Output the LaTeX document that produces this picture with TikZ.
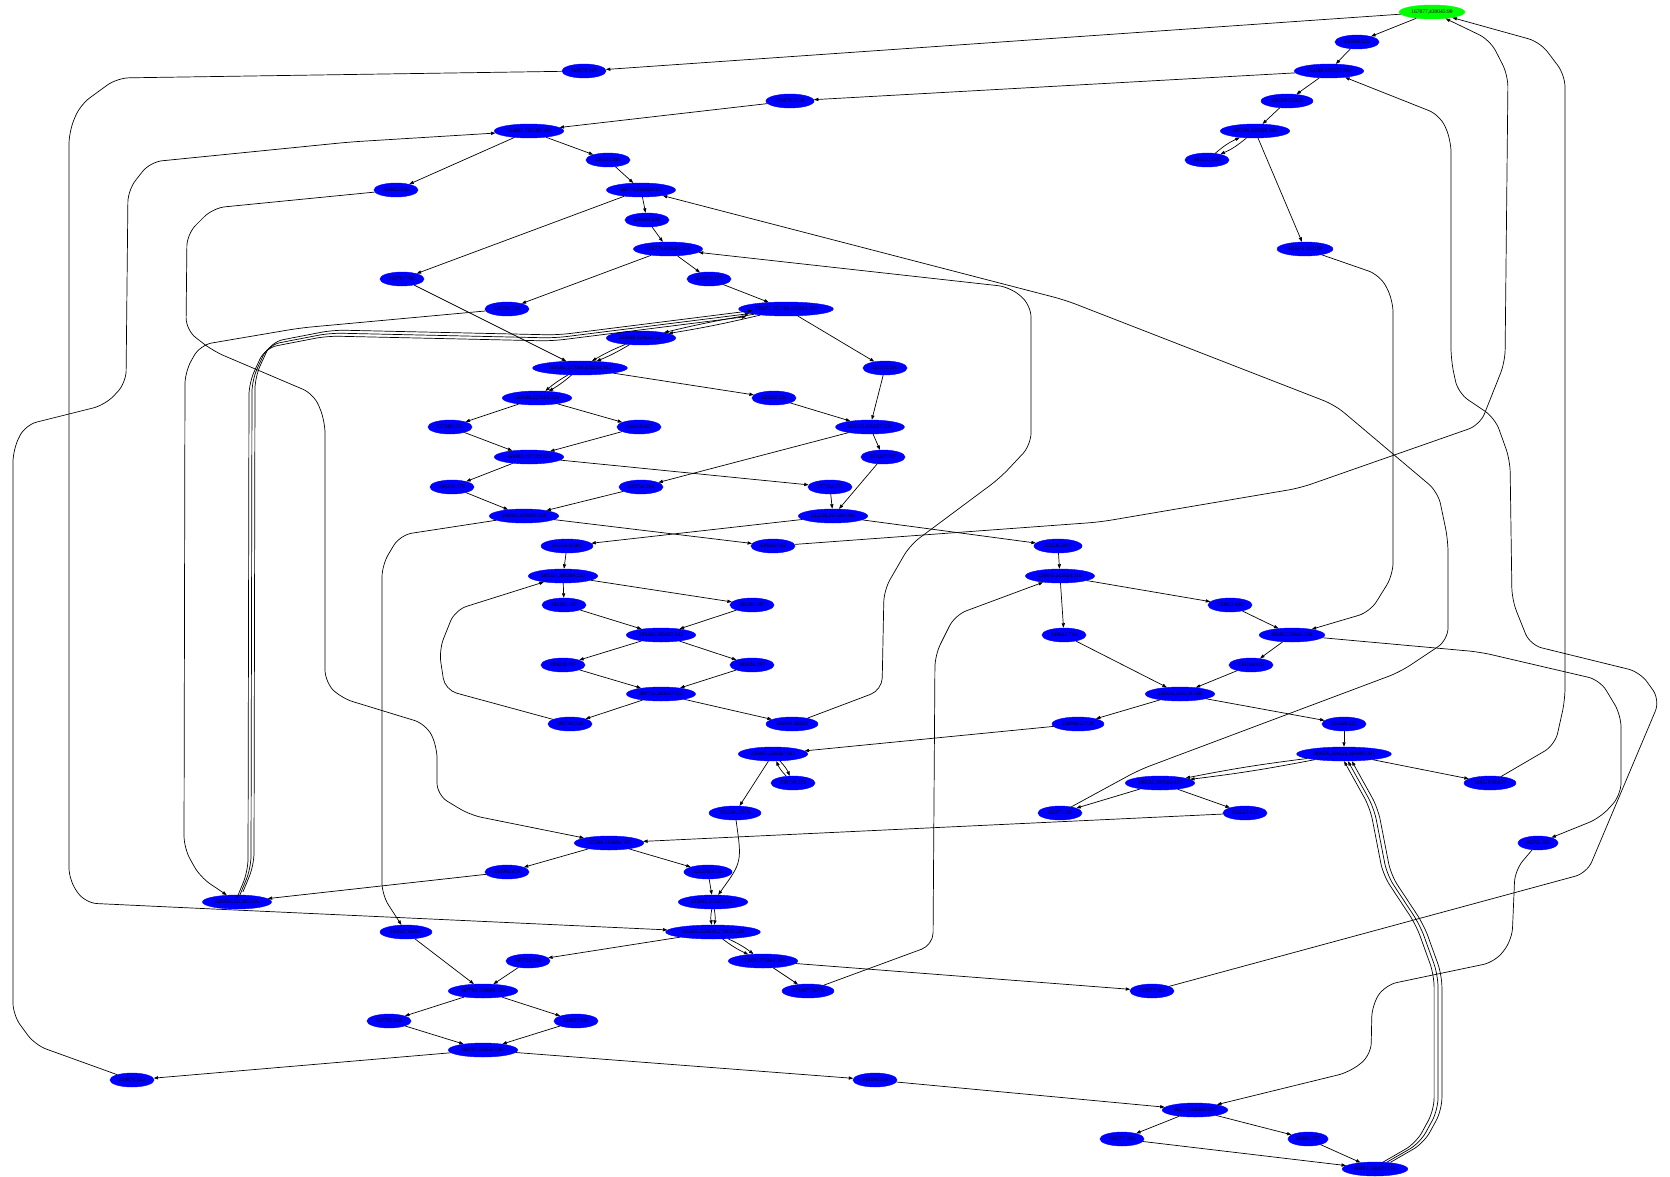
\documentclass[tikz,border=0pt]{standalone}
\usepackage{fontspec}
\setmainfont{Liberation Serif}
\usetikzlibrary{shapes.geometric,arrows.meta}
\definecolor{myblobcolor}{HTML}{0000FF}
\definecolor{mystartcolor}{HTML}{00FF00}
\tikzset{
  blob/.style={draw=myblobcolor, fill=myblobcolor, ellipse, inner xsep=2.5pt, inner ysep=1pt, minimum height=14pt, font=\fontsize{5.5pt}{5.5pt}\selectfont},
  startblob/.style={blob, draw=mystartcolor, fill=mystartcolor},
  link/.style={draw, line width=0.7pt, -{Triangle[length=4.5pt,width=3.2pt]}},
  bendy/.style={link, rounded corners=12pt},
}

\begin{document}
\begin{tikzpicture}[x=1pt, y=-1pt]%
\useasboundingbox (0, 0) rectangle (1670, 1177);%
% rank 0 - 9
\node[startblob] (n167877) at (1432, 12) {167877,430045:99};%
\node[blob] (n430046) at (1357, 42) {430046:225};%
\node[blob] (n169678) at (584, 71) {169678:165};%
\node[blob] (n224160) at (1329, 71) {224160,430175:106};%
\node[blob] (n224978) at (790, 101) {224978:2130};%
\node[blob] (n430398) at (1287, 101) {430398:53416};%
\node[blob] (n214801) at (529, 131) {214801,226180:109};%
\node[blob] (n485309) at (1255, 131) {485309,419368:306};%
\node[blob] (n226131) at (608, 160) {226131:381};%
\node[blob] (n485537) at (1207, 160) {485537:519};%
\node[blob] (n214822) at (396, 190) {214822:536};%
\node[blob] (n168774) at (641, 190) {168774,226424:117};%
\node[blob] (n226443) at (647, 220) {226443:434};%
\node[blob] (n226779) at (668, 249) {226779,428695:114};%
\node[blob] (n485476) at (1305, 249) {485476:103188};%
\node[blob] (n168703) at (402, 279) {168703:700};%
\node[blob] (n428971) at (709, 279) {428971:277};%
% rank 10 - 19
\node[blob] (n226765) at (507, 309) {226765:259};%
\node[blob] (n226971) at (786, 309) {226971,351288,429363:103};%
\node[blob] (n330689) at (641, 338) {330689,429665:157};%
\node[blob] (n169585) at (580, 368) {169585,227048,429234:103};%
\node[blob] (n351313) at (885, 368) {351313:200};%
\node[blob] (n169580) at (537, 398) {169580,227063:124};%
\node[blob] (n429239) at (774, 398) {429239:126};%
\node[blob] (n227089) at (450, 427) {227089:151};%
\node[blob] (n169418) at (639, 427) {169418:467};%
\node[blob] (n351115) at (870, 427) {351115,429287:130};%
\node[blob] (n169483) at (529, 457) {169483,227129:123};%
\node[blob] (n351017) at (883, 457) {351017:197};%
\node[blob] (n166510) at (452, 487) {166510:179};%
\node[blob] (n429256) at (641, 487) {429256:204};%
\node[blob] (n227154) at (830, 487) {227154:171};%
\node[blob] (n168681) at (524, 516) {168681,429405:134};%
\node[blob] (n222228) at (833, 516) {222228,351546:306};%
\node[blob] (n351554) at (567, 546) {351554:37801};%
\node[blob] (n429441) at (773, 546) {429441:702};%
\node[blob] (n222236) at (1058, 546) {222236:2877};%
\node[blob] (n389357) at (563, 576) {389357,389399:233};%
\node[blob] (n229815) at (1060, 576) {229815,343624:116};%
% rank 20 - 29
\node[blob] (n389301) at (564, 605) {389301:197};%
\node[blob] (n389392) at (752, 605) {389392:197};%
\node[blob] (n229833) at (1230, 605) {229833:408};%
\node[blob] (n389460) at (661, 635) {389460,389403:243};%
\node[blob] (n349642) at (1064, 635) {349642:734};%
\node[blob] (n86280) at (1292, 635) {86280,230041:108};%
\node[blob] (n389618) at (563, 665) {389618:197};%
\node[blob] (n389636) at (752, 665) {389636:197};%
\node[blob] (n230144) at (1251, 665) {230144:410};%
\node[blob] (n389735) at (661, 694) {389735,389647:112};%
\node[blob] (n230456) at (1180, 694) {230456,350578:108};%
\node[blob] (n389749) at (570, 724) {389749:518};%
\node[blob] (n350641) at (792, 724) {350641:38302};%
\node[blob] (n230846) at (1078, 724) {230846:27739};%
\node[blob] (n350368) at (1344, 724) {350368:221};%
\node[blob] (n258467) at (773, 754) {258467,258387:101};%
\node[blob] (n389926) at (1344, 754) {389926,368520,389401:101};%
\node[blob] (n258139) at (793, 783) {258139:225};%
\node[blob] (n388532) at (1160, 783) {388532,389503:437};%
\node[blob] (n389918) at (1490, 783) {389918:80837};%
\node[blob] (n258290) at (735, 813) {258290:13179};%
\node[blob] (n169371) at (1060, 813) {169371:301};%
\node[blob] (n350542) at (1245, 813) {350542:432};%
\node[blob] (n215280) at (609, 843) {215280,350896:102};%
\node[blob] (n86293) at (1538, 843) {86293:182};%
\node[blob] (n350906) at (507, 872) {350906:478};%
\node[blob] (n225264) at (708, 872) {225264:4735};%
% rank 30 - 39
\node[blob] (n228456) at (237, 902) {228456,351281:116};%
\node[blob] (n223601) at (713, 902) {223601,273371:137};%
\node[blob] (n169637) at (406, 932) {169637:44567};%
\node[blob] (n165685) at (713, 932) {165685,223810,273410:128};%
\node[blob] (n167718) at (528, 961) {167718:128};%
\node[blob] (n223920) at (763, 961) {223920,273441:105};%
\node[blob] (n167793) at (483, 991) {167793,234806:129};%
\node[blob] (n273447) at (808, 991) {273447:76275};%
\node[blob] (n223972) at (1152, 991) {223972:101};%
\node[blob] (n167782) at (389, 1021) {167782:543};%
\node[blob] (n234823) at (576, 1021) {234823:542};%
\node[blob] (n168197) at (483, 1050) {168197,234567:107};%
\node[blob] (n214876) at (132, 1080) {214876:323};%
\node[blob] (n168204) at (875, 1080) {168204:154};%
\node[blob] (n86577) at (1195, 1110) {86577,168262:107};%
\node[blob] (n168271) at (1122, 1139) {168271:306};%
\node[blob] (n86085) at (1308, 1139) {86085:297};%
\node[blob] (n86083) at (1375, 1169) {86083,168470:151};%
% straight links
\draw[link] (n167877) -- (n430046);%
\draw[link] (n430046) -- (n224160);%
\draw[link] (n224160) -- (n430398);%
\draw[link] (n430398) -- (n485309);%
\draw[link] (n485309) to[bend left=8] (n485537);%
\draw[link] (n485537) to[bend left=8] (n485309);%
\draw[link] (n485309) -- (n485476);%
\draw[link] (n167877) -- (n169678);%
\draw[link] (n224160) -- (n224978);%
\draw[link] (n224978) -- (n214801);%
\draw[link] (n214801) -- (n226131);%
\draw[link] (n214801) -- (n214822);%
\draw[link] (n226131) -- (n168774);%
\draw[link] (n168774) -- (n226443);%
\draw[link] (n226443) -- (n226779);%
\draw[link] (n168774) -- (n168703);%
\draw[link] (n226779) -- (n428971);%
\draw[link] (n226779) -- (n226765);%
\draw[link] (n428971) -- (n226971);%
\draw[link] (n226971) to[bend left=2] (n330689);%
\draw[link] (n226971) to[bend right=2] (n330689);%
\draw[link] (n330689) to[bend left=4] (n169585);%
\draw[link] (n330689) to[bend right=4] (n169585);%
\draw[link] (n169585) to[bend left=5] (n169580);%
\draw[link] (n169585) to[bend right=5] (n169580);%
\draw[link] (n168703) -- (n169585);%
\draw[link] (n226971) -- (n351313);%
\draw[link] (n169585) -- (n429239);%
\draw[link] (n169580) -- (n227089);%
\draw[link] (n169580) -- (n169418);%
\draw[link] (n227089) -- (n169483);%
\draw[link] (n169418) -- (n169483);%
\draw[link] (n429239) -- (n351115);%
\draw[link] (n351313) -- (n351115);%
\draw[link] (n351115) -- (n351017);%
\draw[link] (n351115) -- (n429256);%
\draw[link] (n169483) -- (n166510);%
\draw[link] (n169483) -- (n227154);%
\draw[link] (n166510) -- (n168681);%
\draw[link] (n429256) -- (n168681);%
\draw[link] (n227154) -- (n222228);%
\draw[link] (n351017) -- (n222228);%
\draw[link] (n168681) -- (n429441);%
\draw[link] (n222228) -- (n351554);%
\draw[link] (n222228) -- (n222236);%
\draw[link] (n222236) -- (n229815);%
\draw[link] (n351554) -- (n389357);%
\draw[link] (n389357) -- (n389301);%
\draw[link] (n389357) -- (n389392);%
\draw[link] (n389301) -- (n389460);%
\draw[link] (n389392) -- (n389460);%
\draw[link] (n389460) -- (n389618);%
\draw[link] (n389460) -- (n389636);%
\draw[link] (n389618) -- (n389735);%
\draw[link] (n389636) -- (n389735);%
\draw[link] (n389735) -- (n389749);%
\draw[link] (n389735) -- (n350641);%
\draw[link] (n229815) -- (n349642);%
\draw[link] (n229815) -- (n229833);%
\draw[link] (n229833) -- (n86280);%
\draw[link] (n86280) -- (n230144);%
\draw[link] (n349642) -- (n230456);%
\draw[link] (n230144) -- (n230456);%
\draw[link] (n230456) -- (n230846);%
\draw[link] (n230456) -- (n350368);%
\draw[link] (n230846) -- (n258467);%
\draw[link] (n350368) -- (n389926);%
\draw[link] (n389926) -- (n389918);%
\draw[link] (n389926) to[bend left=2] (n388532);%
\draw[link] (n389926) to[bend right=2] (n388532);%
\draw[link] (n258467) to[bend left=10] (n258139);%
\draw[link] (n258139) to[bend left=10] (n258467);%
\draw[link] (n258467) -- (n258290);%
\draw[link] (n388532) -- (n169371);%
\draw[link] (n388532) -- (n350542);%
\draw[link] (n350542) -- (n215280);%
\draw[link] (n215280) -- (n225264);%
\draw[link] (n215280) -- (n350906);%
\draw[link] (n225264) -- (n223601);%
\draw[link] (n223601) to[bend left=10] (n165685);%
\draw[link] (n223601) to[bend right=10] (n165685);%
\draw[link] (n165685) to[bend left=6] (n223920);%
\draw[link] (n165685) to[bend right=6] (n223920);%
\draw[link] (n223920) -- (n273447);%
\draw[link] (n223920) -- (n223972);%
\draw[link] (n165685) -- (n167718);%
\draw[link] (n350906) -- (n228456);%
\draw[link] (n169637) -- (n167793);%
\draw[link] (n167718) -- (n167793);%
\draw[link] (n167793) -- (n167782);%
\draw[link] (n167793) -- (n234823);%
\draw[link] (n167782) -- (n168197);%
\draw[link] (n234823) -- (n168197);%
\draw[link] (n168197) -- (n214876);%
\draw[link] (n168197) -- (n168204);%
\draw[link] (n168204) -- (n86577);%
\draw[link] (n86577) -- (n168271);%
\draw[link] (n86577) -- (n86085);%
\draw[link] (n168271) -- (n86083);%
\draw[link] (n86085) -- (n86083);%
\draw[link] (n258290) .. controls (742, 862) .. (n223601);%
% long routed links
\draw[bendy] (n168681) -- (400, 535) -- (382, 565) -- (382, 895) -- (n169637);%
\draw[bendy] (n389749) -- (445, 690) -- (439, 650) -- (455, 610) -- (n389357);%
\draw[bendy] (n350641) -- (882, 690) -- (884, 590) -- (910, 545) -- (1000, 478) -- (1031, 445) -- (1031, 305) -- (1010, 287) -- (n226779);%
\draw[bendy] (n485476) -- (1380, 275) -- (1393, 300) -- (1393, 575) -- (1370, 612) -- (n86280);%
\draw[bendy] (n86280) -- (1480, 652) -- (1600, 680) -- (1621, 715) -- (1621, 795) -- (1600, 818) -- (n86293);%
\draw[bendy] (n169371) -- (1139, 770) -- (1400, 672) -- (1448, 640) -- (1448, 540) -- (1438, 492) -- (1335, 405) -- (1065, 300) -- (n168774);%
\draw[bendy] (n273447) -- (933, 945) -- (935, 655) -- (955, 615) -- (n229815);%
\draw[bendy] (n226765) -- (300, 328) -- (200, 345) -- (185, 372) -- (184, 848) -- (200, 877) -- (n228456);%
\foreach \s in {-3, 0, 3}{%
\draw[bendy, transform canvas={xshift=\s pt, yshift=\s pt}] (n228456) -- (251, 868) -- (252, 380) -- (268, 345) -- (330, 333) -- (555, 338) -- (n226971);%
\draw[bendy, transform canvas={xshift=1.3*\s pt}] (n86083) -- (1420, 1143) -- (1438, 1110) -- (1438, 975) -- (1420, 925) -- (1387, 875) -- (1374, 808) -- (n389926);%
}%
\draw[bendy] (n214822) -- (213, 208) -- (187, 234) -- (186, 330) -- (213, 351) -- (314, 394) -- (325, 421) -- (325, 682) -- (341, 698) -- (426, 724) -- (437, 746) -- (437, 795) -- (470, 815) -- (n215280);%
\draw[bendy] (n169678) -- (117, 78) -- (80, 105) -- (69, 132) -- (69, 880) -- (85, 903) -- (170, 907) -- (n165685);%
\draw[bendy] (n214876) -- (35, 1045) -- (13, 1015) -- (13, 450) -- (25, 425) -- (105, 405) -- (126, 383) -- (128, 190) -- (150, 162) -- (350, 142) -- (n214801);%
\draw[bendy] (n86293) -- (1515, 870) -- (1512, 940) -- (1495, 962) -- (1385, 985) -- (1372, 1005) -- (1371, 1055) -- (1350, 1072) -- (n86577);%
\draw[bendy] (n429441) -- (1100, 522) -- (1300, 488) -- (1480, 425) -- (1505, 362) -- (1508, 75) -- (1490, 40) -- (n167877);%
\draw[bendy] (n389918) -- (1555, 745) -- (1565, 700) -- (1565, 75) -- (1540, 42) -- (n167877);%
\draw[bendy] (n223972) -- (1587, 873) -- (1660, 700) -- (1640, 672) -- (1530, 645) -- (1512, 600) -- (1510, 460) -- (1495, 418) -- (1458, 393) -- (1451, 360) -- (1451, 140) -- (1440, 115) -- (n224160);%
\end{tikzpicture}
\end{document}
